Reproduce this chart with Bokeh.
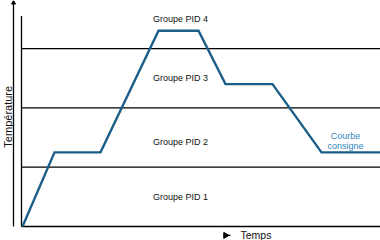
from bokeh.plotting import figure
from bokeh.models import Range1d
from bokeh.core.properties import value
from bokeh.embed import file_html
from bokeh.resources import INLINE

# setpoint curve (time units, temperature units)
curve_t = [0.1, 3.3, 7.9, 13.7, 17.7, 20.4, 25.1, 30.0, 35.9]
curve_temp = [0.0, 1.25, 1.25, 3.3, 3.3, 2.4, 2.4, 1.25, 1.25]

# PID group boundaries (temperature)
bounds = [0, 1, 2, 3]
top_temp = 3.55
t_end = 35.9

group_labels = ["Groupe PID 1", "Groupe PID 2", "Groupe PID 3", "Groupe PID 4"]
group_label_t = [15.9, 15.9, 15.9, 15.9]
group_label_temp = [0.5, 1.43, 2.5, 3.49]

curve_label = ["Courbe", "consigne"]
curve_label_t = [32.4, 32.4]
curve_label_temp = [1.52, 1.35]

font = value("Liberation Sans")

p = figure(width=380, height=240, output_backend="svg", toolbar_location=None,
           x_range=Range1d(-2.1, 35.9), y_range=Range1d(-0.236, 3.81),
           min_border=0, min_border_left=0, min_border_right=0,
           min_border_top=0, min_border_bottom=0)
p.axis.visible = False
p.grid.visible = False
p.outline_line_color = None
p.background_fill_color = "white"
p.border_fill_color = "white"

# horizontal boundaries
for b in bounds:
    p.line([0, t_end], [b, b], line_color="black", line_width=1.3)
# frame left side
p.line([0, 0], [0, top_temp], line_color="black", line_width=1.3)
# temperature axis with arrow
p.line([-0.8, -0.8], [0.0, 3.77], line_color="black", line_width=1.3)
p.scatter([-0.8], [3.77], marker="triangle", size=4, color="black")

# curve
p.line(curve_t, curve_temp, line_color="#1b5f88", line_width=2.4, line_join="miter")

# labels
p.text(group_label_t, group_label_temp, text=group_labels, text_font=font,
       text_font_size="9px", text_align="center", text_baseline="middle",
       text_color="#111111")
p.text(curve_label_t, curve_label_temp, text=curve_label, text_font=font,
       text_font_size="9px", text_align="center", text_baseline="middle",
       text_color="#2f86c0")

p.text([-1.35], [1.85], text=["Température"], text_font=font, angle=1.5708,
       text_font_size="11px", text_align="center", text_baseline="middle",
       text_color="#111111")
p.scatter([20.4], [-0.15], marker="triangle", angle=-1.5708, size=6, color="black")
p.line([20.4, 20.9], [-0.15, -0.15], line_color="black", line_width=1.2)
p.text([21.9], [-0.145], text=["Temps"], text_font=font, text_font_size="10.5px",
       text_align="left", text_baseline="middle", text_color="#111111")

open("out.html", "w").write(file_html(p, INLINE))
